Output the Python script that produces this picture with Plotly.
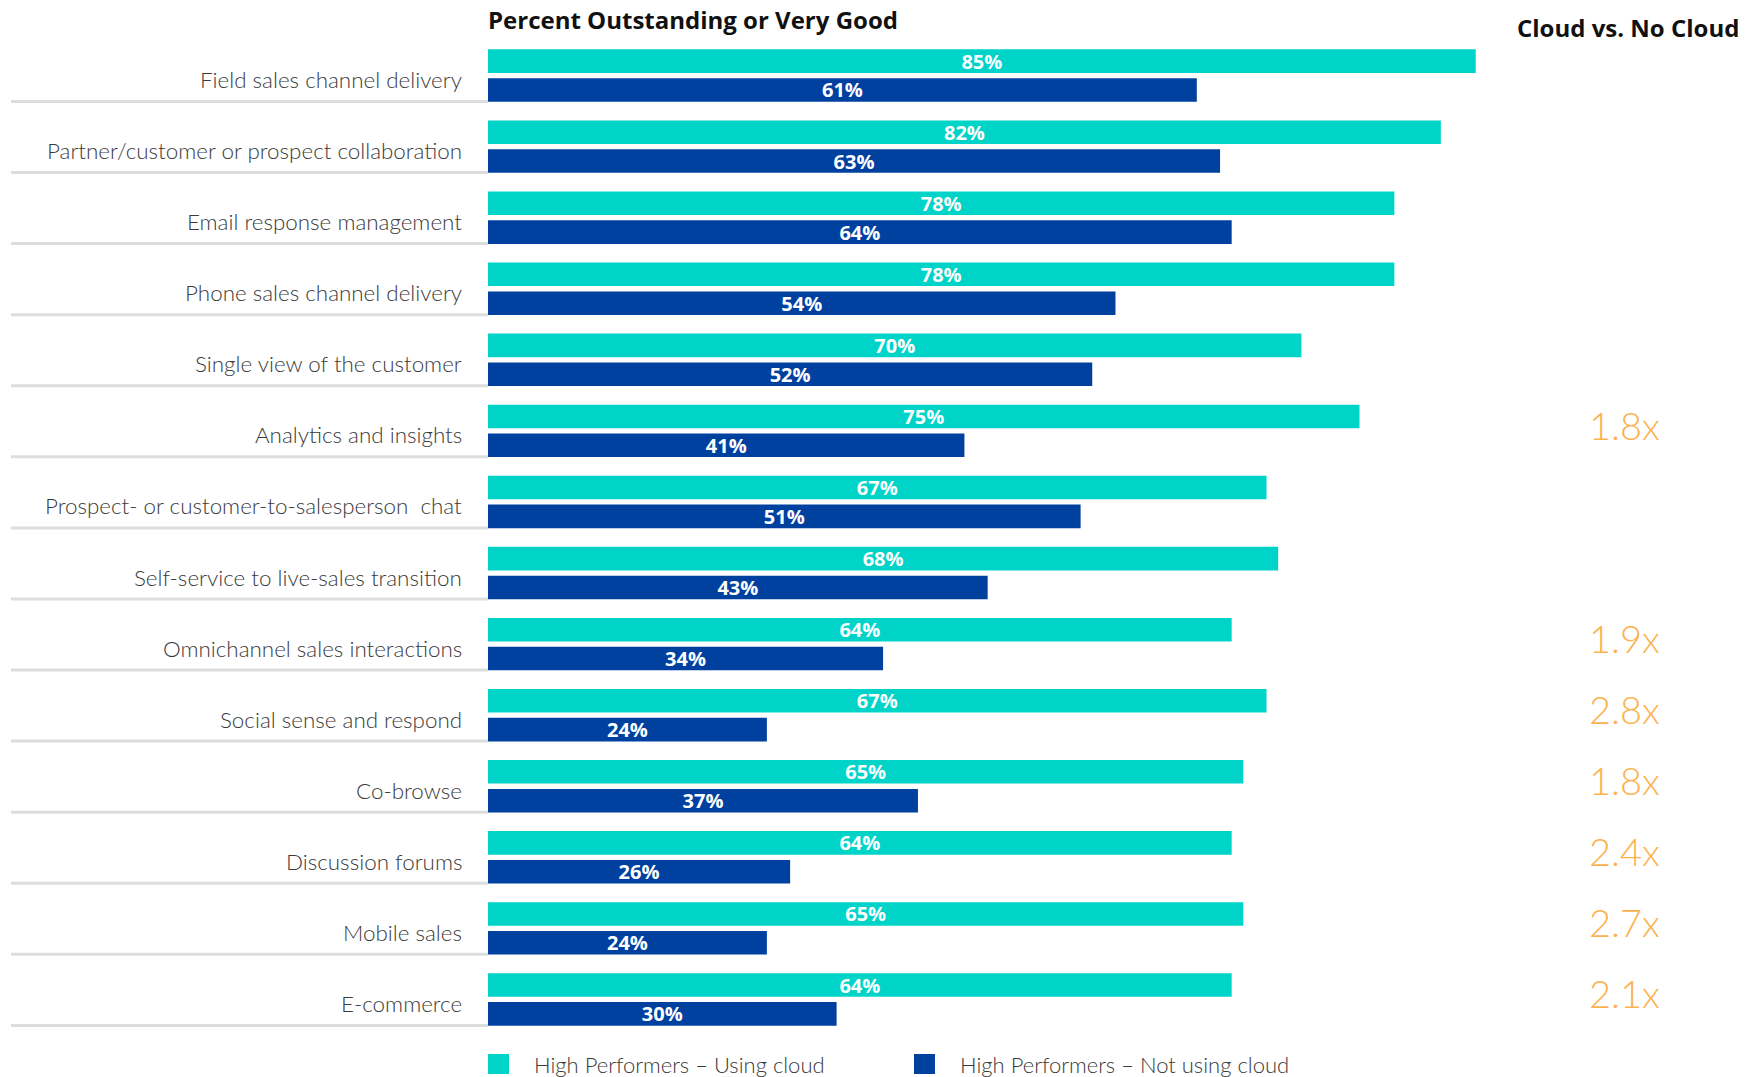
import plotly.graph_objects as go

categories = [
    "Field sales channel delivery",
    "Partner/customer or prospect collaboration",
    "Email response management",
    "Phone sales channel delivery",
    "Single view of the customer",
    "Analytics and insights",
    "Prospect- or customer-to-salesperson  chat",
    "Self-service to live-sales transition",
    "Omnichannel sales interactions",
    "Social sense and respond",
    "Co-browse",
    "Discussion forums",
    "Mobile sales",
    "E-commerce",
]
using_cloud = [85, 82, 78, 78, 70, 75, 67, 68, 64, 67, 65, 64, 65, 64]
not_using_cloud = [61, 63, 64, 54, 52, 41, 51, 43, 34, 24, 37, 26, 24, 30]
ratio_labels = ["", "", "", "", "", "1.8x", "", "", "1.9x", "2.8x", "1.8x", "2.4x", "2.7x", "2.1x"]

series_names = ["High Performers – Using cloud", "High Performers – Not using cloud"]
title_text = "Percent Outstanding or Very Good"
right_title = "Cloud vs. No Cloud"

CYAN = "#00D4C8"
NAVY = "#0041A0"
ORANGE = "#FBB24F"
LABEL = "#3a3a3a"
FONT = "Lato, 'Open Sans', sans-serif"
BOLD_FONT = "'Open Sans', Lato, sans-serif"

W, H = 1748, 1077
ML, MR, MT, MB = 488, 98, 40, 42
PW = W - ML - MR
PH = H - MT - MB


def px_x(px):
    return (px - ML) / PW


def px_y(py):
    return (H - MB - py) / PH


fig = go.Figure()
bar_w = 0.332
fig.add_trace(go.Bar(
    y=categories, x=using_cloud, orientation="h", name=series_names[0],
    marker=dict(color=CYAN, line=dict(width=0)),
    width=bar_w, offset=-0.369,
    texttemplate="%{x}%", textposition="inside", insidetextanchor="middle",
    textfont=dict(color="white", size=20, family=BOLD_FONT, weight=700),
    constraintext="none", showlegend=False, hoverinfo="x+y",
))
fig.add_trace(go.Bar(
    y=categories, x=not_using_cloud, orientation="h", name=series_names[1],
    marker=dict(color=NAVY, line=dict(width=0)),
    width=bar_w, offset=0.037,
    texttemplate="%{x}%", textposition="inside", insidetextanchor="middle",
    textfont=dict(color="white", size=20, family=BOLD_FONT, weight=700),
    constraintext="none", showlegend=False, hoverinfo="x+y",
))

shapes = []
annotations = []
for i, cat in enumerate(categories):
    shapes.append(dict(
        type="line", xref="paper", yref="y",
        x0=px_x(11), x1=0, y0=i + 0.365, y1=i + 0.365,
        line=dict(color="#dcdede", width=3), layer="below",
    ))
    annotations.append(dict(
        xref="x", yref="y", x=0, y=i, text=cat, showarrow=False,
        xanchor="right", yanchor="middle", xshift=-24, yshift=-4,
        font=dict(size=22.4, color=LABEL, family=FONT, weight=300),
    ))
    if ratio_labels[i]:
        annotations.append(dict(
            xref="paper", yref="y", x=px_x(1587), y=i, text=ratio_labels[i],
            showarrow=False, xanchor="left", yanchor="middle", yshift=6,
            font=dict(size=38, color=ORANGE, family=FONT, weight=300),
        ))

annotations.append(dict(
    xref="paper", yref="paper", x=0, y=px_y(20), text="<b>" + title_text + "</b>",
    showarrow=False, xanchor="left", yanchor="middle", xshift=-2,
    font=dict(size=24, color="#111111", family=BOLD_FONT),
))
annotations.append(dict(
    xref="paper", yref="paper", x=px_x(1741), y=px_y(27), text="<b>" + right_title + "</b>",
    showarrow=False, xanchor="right", yanchor="middle",
    font=dict(size=24, color="#111111", family=BOLD_FONT),
))

# legend
legend_items = [(488, CYAN, series_names[0]), (914, NAVY, series_names[1])]
for x0, col, name in legend_items:
    shapes.append(dict(
        type="rect", xref="paper", yref="paper",
        x0=px_x(x0), x1=px_x(x0 + 21), y0=px_y(1054), y1=px_y(1074),
        fillcolor=col, line=dict(width=0),
    ))
    annotations.append(dict(
        xref="paper", yref="paper", x=px_x(x0 + 44), y=px_y(1064), text=name,
        showarrow=False, xanchor="left", yanchor="middle",
        font=dict(size=22, color=LABEL, family=FONT, weight=300),
    ))

fig.update_layout(
    width=W, height=H,
    margin=dict(l=ML, r=MR, t=MT, b=MB, pad=0),
    paper_bgcolor="white", plot_bgcolor="white",
    barmode="overlay",
    xaxis=dict(range=[0, 100], visible=False, fixedrange=True),
    yaxis=dict(type="category", categoryorder="array", categoryarray=categories,
               range=[13.5, -0.5], showticklabels=False, showgrid=False,
               zeroline=False, showline=False, ticks="", fixedrange=True),
    shapes=shapes, annotations=annotations,
    showlegend=False,
    font=dict(family=FONT),
)

fig.write_html("out.html", include_plotlyjs=True, config={"displayModeBar": False})
